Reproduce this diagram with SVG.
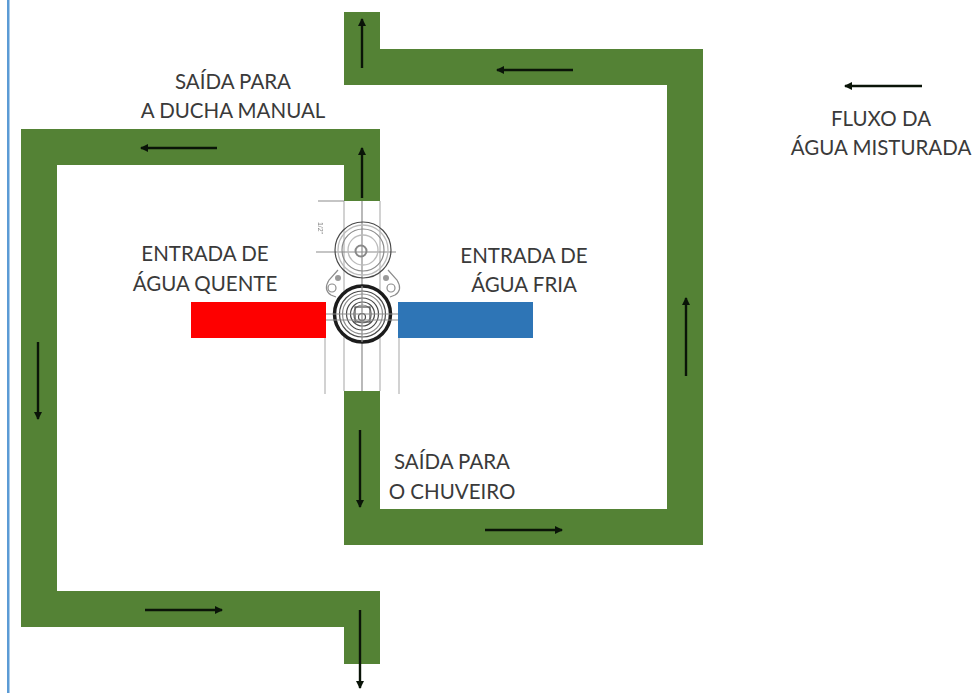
<svg xmlns="http://www.w3.org/2000/svg" width="976" height="693" viewBox="0 0 976 693">
<style>
.pipe{fill:#548235}
.flow{stroke:#0a1408;stroke-width:2.4;fill:none;marker-end:url(#ah)}
.lbl{font:20.500px Lato,"Liberation Sans",sans-serif;fill:#3a3a3a;text-anchor:middle}
.d{fill:none;stroke:#8c8c8c;stroke-width:1.2}
.g{fill:none;stroke:#bbb;stroke-width:1.3}
.k{fill:none;stroke:#4a4a4a;stroke-width:1.2}
</style>
<defs><marker id="ah" markerUnits="userSpaceOnUse" markerWidth="9" markerHeight="8" refX="7" refY="4" orient="auto"><path d="M0 0L8 4L0 8Z" fill="#0a1408"/></marker>
<filter id="soft" x="-5%" y="-5%" width="110%" height="110%"><feGaussianBlur stdDeviation="0.5"/></filter></defs>
<rect width="976" height="693" fill="#fff"/>
<rect x="7" y="0" width="2.500" height="693" fill="#5b9bd5" id="left-border"/>
<g id="pipe-top"><path class="pipe" d="M344 12H380V49H703V545H344V391H380V509H667V85H344Z"/></g>
<g id="pipe-left"><path class="pipe" d="M21 129H380V201H344V165H57V591H380V664H344V627H21Z"/></g>
<g id="inlet-hot"><rect x="191" y="302" width="135" height="36" fill="#fe0000"/></g>
<g id="inlet-cold"><rect x="398" y="302" width="135" height="36" fill="#2e75b6"/></g>
<g id="valve" filter="url(#soft)">
<path class="g" d="M344 201V391M380 201V391M325 338V394M399 338V394"/>
<path class="d" d="M362 201V391M318 201H344M316 252H396"/>
<circle class="k" cx="363" cy="250" r="28"/><circle class="g" cx="363" cy="250" r="25"/><circle class="d" cx="363" cy="250" r="21"/><circle class="g" cx="363" cy="250" r="15"/><circle cx="361" cy="251" r="5.500" fill="none" stroke="#888" stroke-width="2"/>
<path class="d" d="M338 270L329 280Q323 290 331 295L336 297M388 270L397 280Q403 290 395 295L390 297"/>
<circle cx="338" cy="278" r="3" fill="#999"/><circle cx="386" cy="278" r="3" fill="#999"/><circle class="d" cx="332" cy="288" r="4"/><circle class="d" cx="391" cy="288" r="4"/>
<circle cx="362.500" cy="314" r="28" fill="#fff" stroke="#1e1e1e" stroke-width="3.500"/>
<circle class="k" cx="362.500" cy="314" r="23"/><circle class="d" cx="362.500" cy="314" r="20"/><circle class="k" cx="362.500" cy="314" r="16"/><circle class="k" cx="362.500" cy="314" r="12"/><circle class="d" cx="362.500" cy="314" r="9"/><rect class="k" x="355" y="307" width="15" height="15"/><circle class="k" cx="362" cy="317" r="3.500"/>
<path class="d" d="M326 314H398M326 320H398M362 286V342"/>
<text transform="translate(318 228) rotate(90)" font-family="Liberation Sans,sans-serif" font-size="7" fill="#888" text-anchor="middle">1/2"</text>
</g>
<g id="connectors">
<path class="flow" d="M362 68V19"/><path class="flow" d="M573 70H497"/><path class="flow" d="M686 376V298"/><path class="flow" d="M485 530H562"/><path class="flow" d="M360 430V507"/><path class="flow" d="M362 198V148"/><path class="flow" d="M217 148H141"/><path class="flow" d="M38 342V419"/><path class="flow" d="M145 610H222"/><path class="flow" d="M360 610V688"/><path class="flow" d="M922 86H845"/>
</g>
<g id="labels">
<text class="lbl" x="233" y="89">SAÍDA PARA</text><text class="lbl" x="233" y="118">A DUCHA MANUAL</text>
<text class="lbl" x="205" y="261">ENTRADA DE</text><text class="lbl" x="205" y="291">ÁGUA QUENTE</text>
<text class="lbl" x="524" y="263">ENTRADA DE</text><text class="lbl" x="524" y="292">ÁGUA FRIA</text>
<text class="lbl" x="452" y="469">SAÍDA PARA</text><text class="lbl" x="452" y="499">O CHUVEIRO</text>
<text class="lbl" x="881" y="126">FLUXO DA</text><text class="lbl" x="881" y="155">ÁGUA MISTURADA</text>
</g>
</svg>
